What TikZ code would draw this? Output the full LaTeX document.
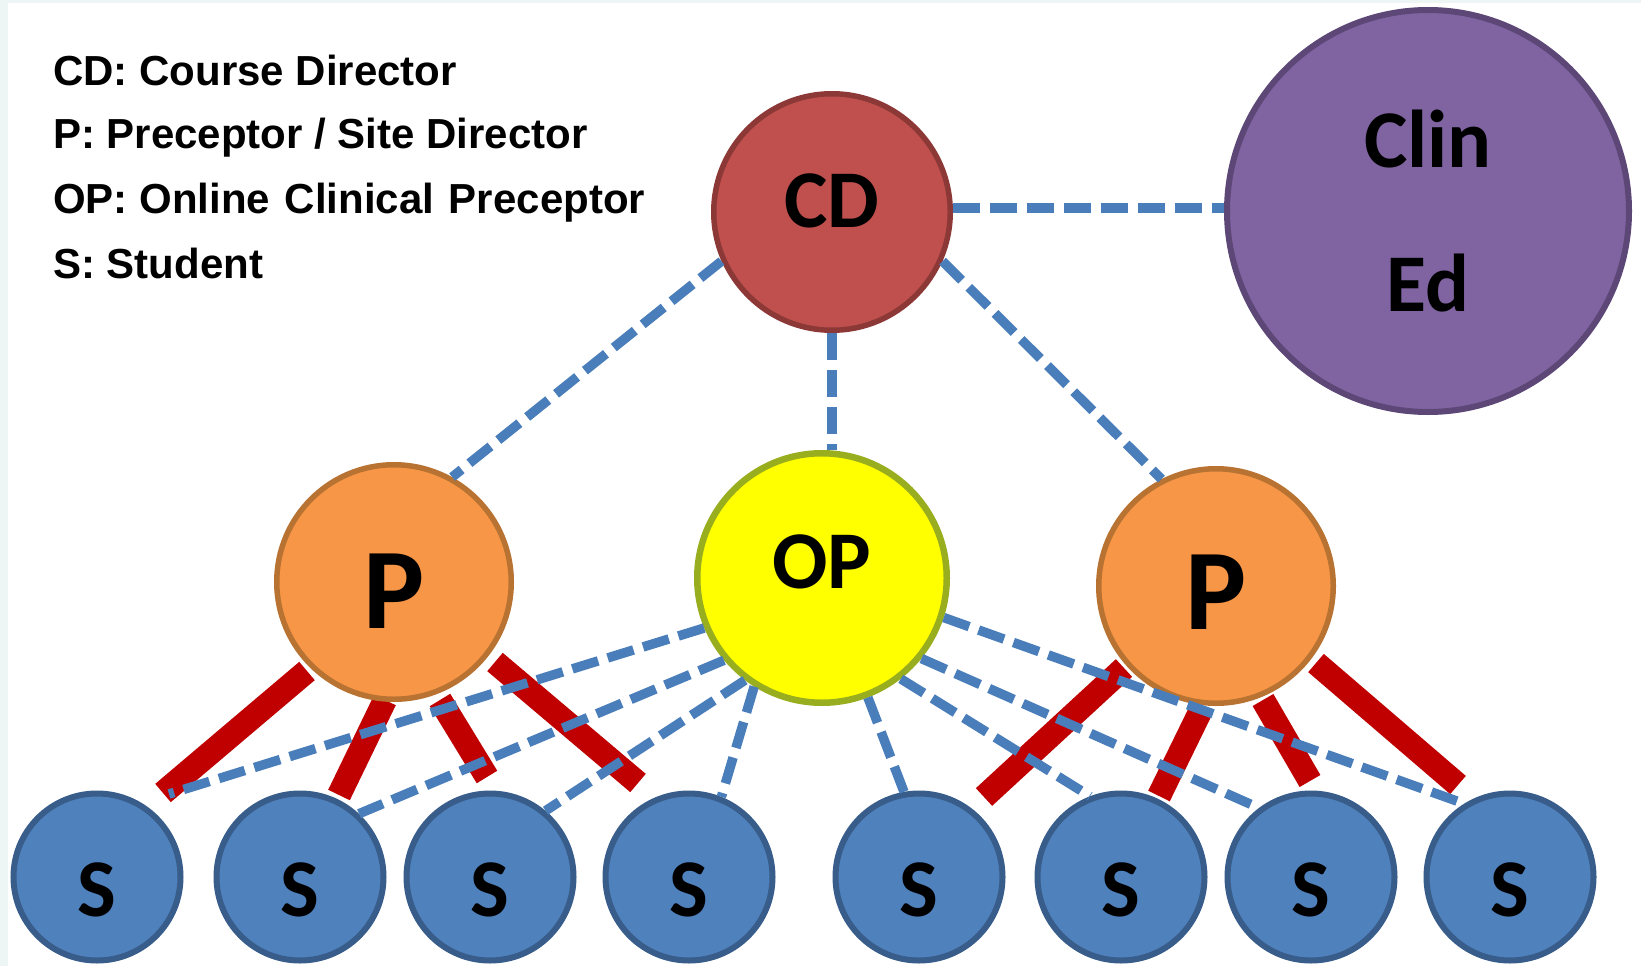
\documentclass[tikz,border=0pt]{standalone}
\usepackage{fontspec}
\setmainfont{Liberation Sans}
\newfontfamily\calibfont{Carlito}
\definecolor{bgstrip}{HTML}{EDF5F5}
\definecolor{cdfill}{HTML}{C0504D}
\definecolor{cdline}{HTML}{8C3836}
\definecolor{cefill}{HTML}{8064A2}
\definecolor{celine}{HTML}{5C4776}
\definecolor{opfill}{HTML}{FFFF00}
\definecolor{opline}{HTML}{98AE1E}
\definecolor{pfill}{HTML}{F79646}
\definecolor{pline}{HTML}{B87333}
\definecolor{sfill}{HTML}{4F81BD}
\definecolor{sline}{HTML}{385D8A}
\definecolor{linkblue}{HTML}{4A7EBB}
\definecolor{barred}{HTML}{C00000}
\begin{document}
\begin{tikzpicture}[x=1pt,y=-1pt,
  bubble/.style={circle, inner sep=0pt, text=black},
  big/.style={font=\calibfont\bfseries\fontsize{82}{144}\selectfont},
  cdnode/.style={bubble, big, fill=cdfill, draw=cdline, line width=5.5pt, minimum size=236.5pt, text height=30pt, text depth=0pt},
  cenode/.style={bubble, big, align=center, fill=cefill, draw=celine, line width=6pt, minimum size=402pt},
  opnode/.style={bubble, big, fill=opfill, draw=opline, line width=6.5pt, minimum size=249.5pt, text height=20pt, text depth=0pt},
  pnode/.style={bubble, font=\calibfont\bfseries\fontsize{115}{130}\selectfont, fill=pfill, draw=pline, line width=5.5pt, minimum size=234.5pt, text depth=0pt},
  snode/.style={bubble, big, fill=sfill, draw=sline, line width=6pt, minimum size=167pt, text height=78pt, text depth=0pt},
  link/.style={draw=linkblue, line width=9.5pt, dash pattern=on 27pt off 10pt},
  bar/.style={draw=barred, line width=24pt},
  legend/.style={anchor=base west, inner sep=0pt, font=\bfseries\fontsize{42}{50}\selectfont}
]
\fill[bgstrip] (0,0) rectangle (1641,966);
\fill[white] (8,3) rectangle (1641,966);
\useasboundingbox (0,0) rectangle (1641,966);

% legend
\node[legend] (l1) at (53,85) {CD: Course Director};
\node[legend] (l2) at (53,148) {P: Preceptor / Site Director};
\node[legend] (l3) at (53,213) {OP: Online\hspace{3pt} Clinical\hspace{3pt} Preceptor};
\node[legend] (l4) at (53,278) {S: Student};

% red bars (preceptor to students)
\coordinate (b1s) at (307,671);  \coordinate (b1e) at (163,793);
\coordinate (b2s) at (385,700);  \coordinate (b2e) at (339,795);
\coordinate (b3s) at (440,700);  \coordinate (b3e) at (487,777);
\coordinate (b4s) at (495,662);  \coordinate (b4e) at (638,783);
\coordinate (b5s) at (1124,668); \coordinate (b5e) at (984,797);
\coordinate (b6s) at (1202,708); \coordinate (b6e) at (1159,796);
\coordinate (b7s) at (1263,700); \coordinate (b7e) at (1310,781);
\coordinate (b8s) at (1316,663); \coordinate (b8e) at (1458,785);
\foreach \i in {1,...,8} { \draw[bar] (b\i s) -- (b\i e); }

% nodes
\node[cdnode] (CD) at (832,212) {CD};
\node[cenode] (CE) at (1428,211) {Clin\\Ed};
\node[opnode] (OP) at (822,578) {OP};
\node[pnode, text height=92.7pt] (P1) at (394,582) {P};
\node[pnode, text height=86.7pt] (P2) at (1216,586) {P};
\node[snode] (S1) at (97,877) {S};
\node[snode] (S2) at (300,877) {S};
\node[snode] (S3) at (490,877) {S};
\node[snode] (S4) at (689,877) {S};
\node[snode] (S5) at (919,877) {S};
\node[snode] (S6) at (1121,877) {S};
\node[snode] (S7) at (1311,877) {S};
\node[snode] (S8) at (1510,877) {S};

% blue dashed links
\draw[link] (CD.2) -- (CD.2 -| CE.west);
\draw[link] (CD.204) -- (P1.61);
\draw[link] (CD.south) -- (CD.south |- OP.north);
\draw[link] (CD.336) -- (P2.117);
\coordinate (e1) at (169,794);
\draw[link] (OP.203) -- (e1);
\draw[link] (OP.220) -- (S2.47);
\draw[link] (OP.233) -- (S3.50);
\draw[link] (OP.238) -- (S4.68);
\draw[link] (OP.291) -- (S5.100);
\draw[link] (OP.308) -- (S6.111);
\draw[link] (OP.321) -- (S7.127);
\draw[link] (OP.342) -- (S8.122);
\end{tikzpicture}
\end{document}
